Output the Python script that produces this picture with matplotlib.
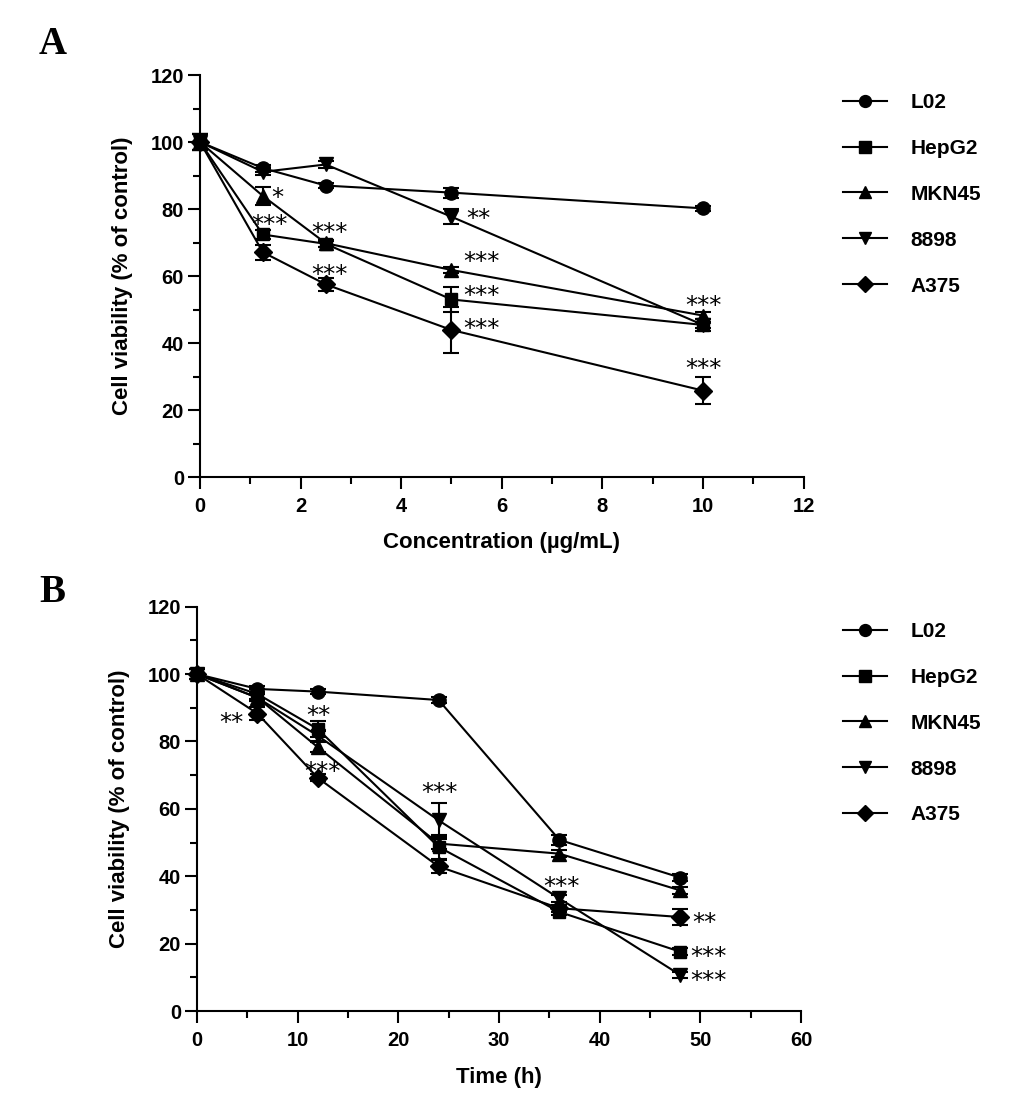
import matplotlib
matplotlib.use("Agg")
import matplotlib.pyplot as plt
from matplotlib.ticker import MultipleLocator

plt.rcParams['font.family'] = ['Liberation Sans', 'DejaVu Sans']

# ---- data ----
cell_lines = ['L02', 'HepG2', 'MKN45', '8898', 'A375']
markers = ['o', 's', '^', 'v', 'D']
msizes = [9.5, 9, 10, 10, 9]

# panel A: concentration series
conc = [0, 1.25, 2.5, 5, 10]
conc_L02 = [100, 92.2, 87.0, 84.9, 80.2]
conc_HepG2 = [100, 72.4, 69.6, 53.0, 45.4]
conc_MKN45 = [100, 83.9, 69.8, 61.8, 48.2]
conc_8898 = [100, 91.1, 93.3, 77.7, 45.4]
conc_A375 = [100, 67.1, 57.5, 43.9, 25.8]
conc_err_L02 = [2.5, 1.0, 0.8, 1.5, 0.8]
conc_err_HepG2 = [2.5, 1.2, 1.0, 3.7, 1.8]
conc_err_MKN45 = [2.5, 2.8, 1.0, 1.0, 1.0]
conc_err_8898 = [2.5, 1.0, 1.0, 2.2, 1.0]
conc_err_A375 = [2.5, 2.3, 2.0, 7.0, 4.0]

# panel B: time series
time_h = [0, 6, 12, 24, 36, 48]
time_L02 = [100, 95.6, 94.8, 92.3, 50.8, 39.6]
time_HepG2 = [100, 94.1, 83.7, 48.7, 29.4, 17.6]
time_MKN45 = [100, 93.0, 78.3, 49.7, 46.7, 35.8]
time_8898 = [100, 93.0, 81.7, 56.6, 33.4, 10.7]
time_A375 = [100, 88.3, 69.2, 42.9, 30.5, 27.9]
time_err_L02 = [1.5, 1.0, 0.8, 0.8, 1.5, 1.0]
time_err_HepG2 = [1.5, 1.5, 2.5, 3.5, 1.0, 1.0]
time_err_MKN45 = [1.5, 1.0, 1.5, 1.5, 1.0, 1.0]
time_err_8898 = [1.5, 1.0, 1.5, 5.0, 1.0, 1.0]
time_err_A375 = [1.5, 2.0, 1.0, 2.0, 1.0, 2.5]

# significance marks (x, y, text)
stars_A = [(1.54, 85.0, '*'), (1.39, 77.0, '***'), (2.58, 74.6, '***'),
           (2.58, 62.0, '***'), (5.53, 78.8, '**'), (5.6, 65.8, '***'),
           (5.6, 55.8, '***'), (5.6, 45.7, '***'), (10.0, 52.8, '***'),
           (10.0, 33.9, '***')]
stars_B = [(3.45, 87.1, '**'), (12.05, 89.3, '**'), (12.45, 72.5, '***'),
           (24.1, 66.4, '***'), (36.2, 38.3, '***'), (50.4, 27.9, '**'),
           (50.8, 17.6, '***'), (50.8, 10.4, '***')]

fig = plt.figure(figsize=(10.33, 11.2), dpi=100)
axA = fig.add_axes([0.1936, 0.5741, 0.5843, 0.3589])
axB = fig.add_axes([0.1907, 0.0973, 0.5847, 0.3610])


def draw_panel(ax, x, ys, errs, stars, xmax, xmajor, xminor, xlabel, legend_top):
    lines = []
    for name, y, e, m, ms in zip(cell_lines, ys, errs, markers, msizes):
        eb = ax.errorbar(x, y, yerr=e, color='black', marker=m, markersize=ms,
                         linewidth=1.5, elinewidth=1.5, capsize=6, capthick=1.5,
                         clip_on=False, zorder=3)
        lines.append(eb[0])
    for sx, sy, s in stars:
        ax.annotate(s, (sx, sy), xytext=(0, -9.0), textcoords='offset points',
                    ha='center', va='baseline', fontsize=17.5,
                    family='DejaVu Sans', zorder=4)
    ax.set_xlim(0, xmax)
    ax.set_ylim(0, 120)
    ax.spines['top'].set_visible(False)
    ax.spines['right'].set_visible(False)
    for sp in ('left', 'bottom'):
        ax.spines[sp].set_linewidth(1.5)
    ax.xaxis.set_major_locator(MultipleLocator(xmajor))
    ax.xaxis.set_minor_locator(MultipleLocator(xminor))
    ax.yaxis.set_major_locator(MultipleLocator(20))
    ax.yaxis.set_minor_locator(MultipleLocator(10))
    ax.tick_params(which='major', length=8.5, width=1.5, labelsize=14.5, pad=3)
    ax.tick_params(which='minor', length=5, width=1.5)
    ax.tick_params(axis='x', which='major', pad=6)
    for lab in ax.get_xticklabels() + ax.get_yticklabels():
        lab.set_fontweight('bold')
    ax.set_xlabel(xlabel, fontsize=16, fontweight='bold', va='center')
    ax.xaxis.set_label_coords(0.5, -0.164)
    ax.set_ylabel('Cell viability (% of control)', fontsize=16,
                  fontweight='bold', va='center')
    ax.yaxis.set_label_coords(-0.128, 0.5)
    ax.legend(lines, cell_lines, loc='upper left',
              bbox_to_anchor=(0.816, legend_top),
              bbox_transform=fig.transFigure, frameon=False,
              borderpad=0, borderaxespad=0, handlelength=2.1,
              handletextpad=1.15, labelspacing=1.29, markerscale=0.9,
              prop={'weight': 'bold', 'size': 15})


draw_panel(axA, conc,
           [conc_L02, conc_HepG2, conc_MKN45, conc_8898, conc_A375],
           [conc_err_L02, conc_err_HepG2, conc_err_MKN45, conc_err_8898, conc_err_A375],
           stars_A, 12, 2, 1, 'Concentration (\u00b5g/mL)', 1 - 93 / 1120)
draw_panel(axB, time_h,
           [time_L02, time_HepG2, time_MKN45, time_8898, time_A375],
           [time_err_L02, time_err_HepG2, time_err_MKN45, time_err_8898, time_err_A375],
           stars_B, 60, 10, 5, 'Time (h)', 1 - 622 / 1120)

fig.text(39 / 1033, 1 - 45 / 1120, 'A', family='Liberation Serif',
         fontweight='bold', fontsize=28, va='center', ha='left')
fig.text(39 / 1033, 1 - 592 / 1120, 'B', family='Liberation Serif',
         fontweight='bold', fontsize=28, va='center', ha='left')

fig.savefig('out.png', dpi=100, facecolor='white')
